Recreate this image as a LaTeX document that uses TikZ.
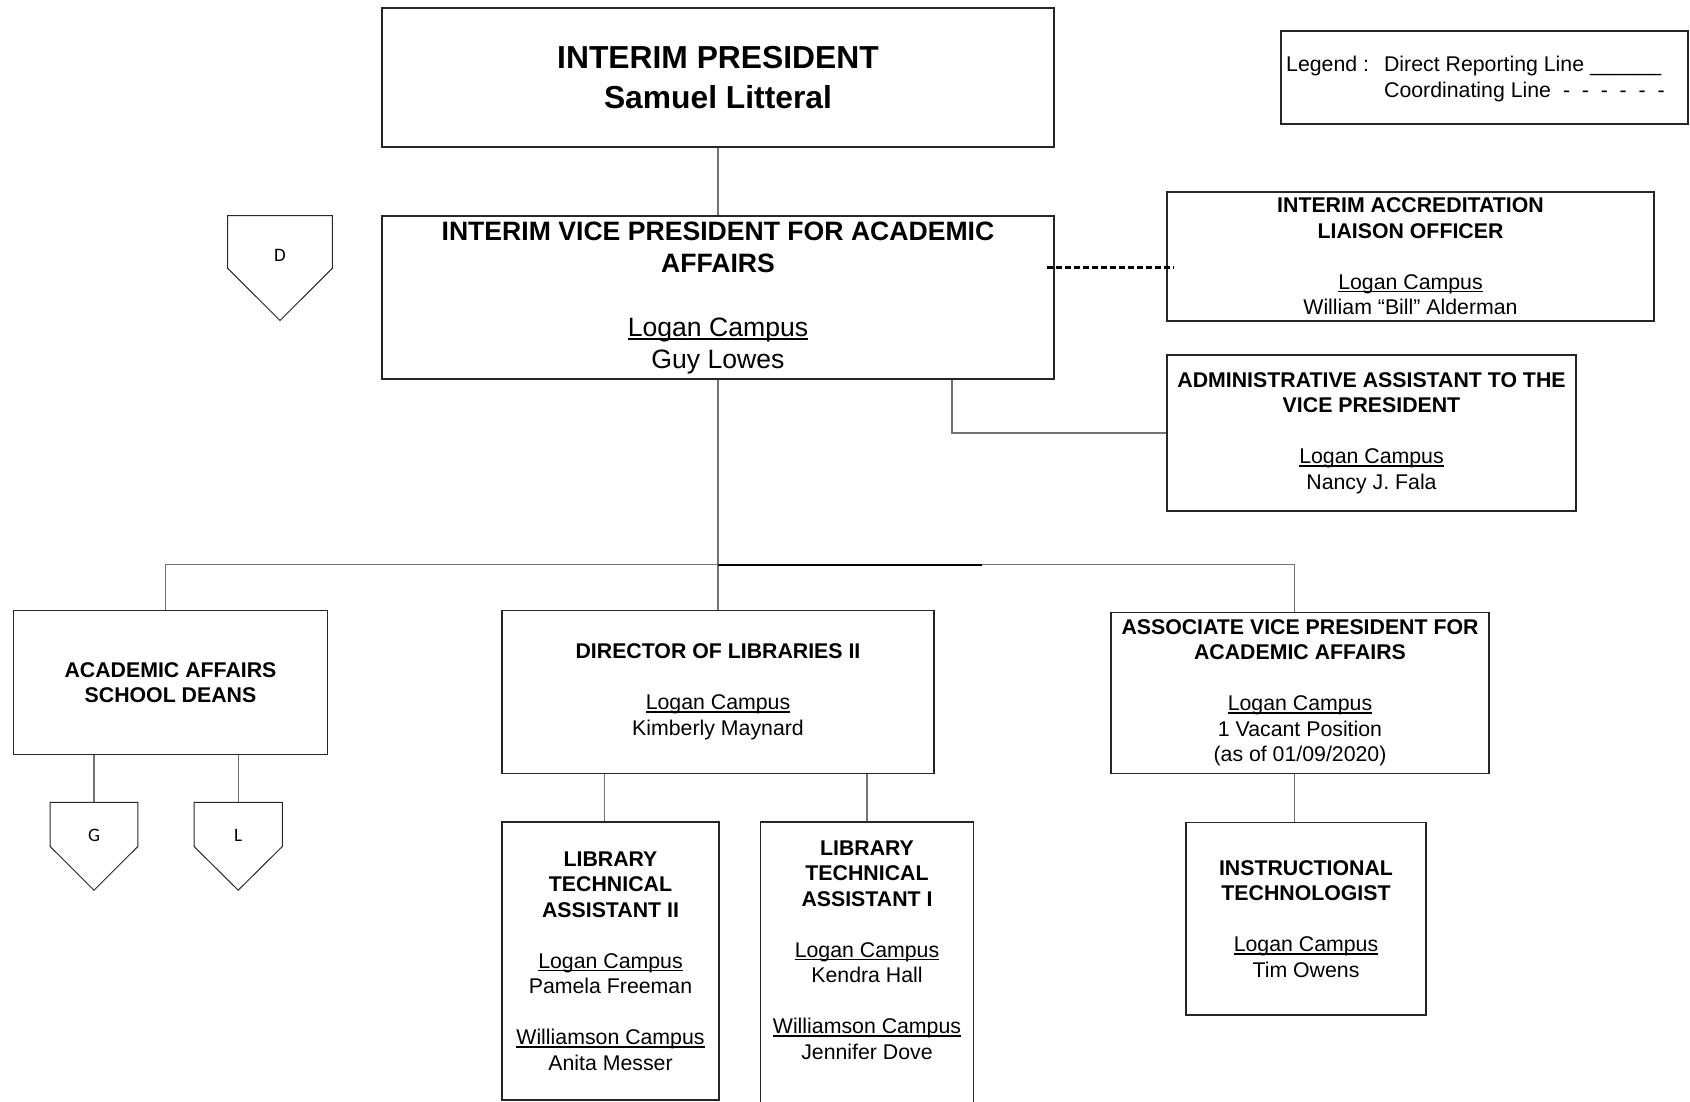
\documentclass[tikz,border=0pt]{standalone}
\usepackage{fontspec}
\setmainfont{Liberation Sans}
\newfontfamily\calibfont{Carlito}
\usetikzlibrary{calc}
\newsavebox{\campusbox}
\newcommand{\campus}[1]{\sbox{\campusbox}{#1}\rlap{\rule[-0.14em]{\wd\campusbox}{0.07em}}\usebox{\campusbox}}
\tikzset{
  box/.style={draw=black!85, line width=1.1pt, inner sep=0pt, align=center,
    font=\fontsize{21.3}{25.5}\selectfont},
  conn/.style={draw=black!55, line width=1.2pt},
  busthick/.style={draw=black, line width=1.7pt},
  coordline/.style={draw=black, line width=2.5pt, dash pattern=on 5.5pt off 3.5pt},
  pent/.style={draw=black!85, line width=1pt},
  letter/.style={font=\calibfont\fontsize{19}{22}\selectfont, inner sep=0pt},
}
\begin{document}
\begin{tikzpicture}[x=1pt,y=-1pt]
\useasboundingbox (0,0) rectangle (1690,1102);
\clip (0,0) rectangle (1690,1102);

% top boxes
\node[box, minimum width=672pt, minimum height=139pt,
      font=\bfseries\fontsize{31.8}{40}\selectfont] (pres) at (718,77.5)
  {INTERIM PRESIDENT\\Samuel Litteral};
\node[box, minimum width=672pt, minimum height=163pt,
      font=\fontsize{26.6}{32}\selectfont] (vp) at (718,297.5)
  {\textbf{INTERIM VICE PRESIDENT FOR ACADEMIC}\\\textbf{AFFAIRS}\\[32pt]\campus{Logan Campus}\\Guy Lowes};

% legend
\node[draw=black!85, line width=1.1pt, minimum width=407pt, minimum height=93pt, inner sep=0pt] (legend) at (1484.5,77.5) {};
\node[anchor=west, inner sep=0pt, font=\fontsize{21.3}{26}\selectfont] (legtext) at (1286,79.7)
  {\begin{tabular}{@{}l@{\hspace{15pt}}l@{}}
   Legend : & Direct Reporting Line \_\_\_\_\_\_\\
            & Coordinating Line\hspace{12pt}-\hspace{11.8pt}-\hspace{11.8pt}-\hspace{11.8pt}-\hspace{11.8pt}-\hspace{11.8pt}-
   \end{tabular}};

% right staff boxes
\node[box, minimum width=487pt, minimum height=129pt] (liaison) at (1410.5,256.5)
  {\textbf{INTERIM ACCREDITATION}\\\textbf{LIAISON OFFICER}\\[25.5pt]\campus{Logan Campus}\\William “Bill” Alderman};
\node[box, minimum width=409pt, minimum height=156pt] (admin) at (1371.5,433)
  {\textbf{ADMINISTRATIVE ASSISTANT TO THE}\\\textbf{VICE PRESIDENT}\\[25.5pt]\campus{Logan Campus}\\Nancy J. Fala};

% second level
\node[box, minimum width=314pt, minimum height=144pt] (deans) at (170.5,682.5)
  {\textbf{ACADEMIC AFFAIRS}\\\textbf{SCHOOL DEANS}};
\node[box, minimum width=432pt, minimum height=163pt] (dir) at (718,692)
  {\textbf{DIRECTOR OF LIBRARIES II}\\[25.5pt]\campus{Logan Campus}\\Kimberly Maynard};
\node[box, minimum width=378pt, minimum height=160.5pt] (avp) at (1300,693)
  {\textbf{ASSOCIATE VICE PRESIDENT FOR}\\\textbf{ACADEMIC AFFAIRS}\\[25.5pt]\campus{Logan Campus}\\1 Vacant Position\\(as of 01/09/2020)};

% third level
\node[box, minimum width=217pt, minimum height=278pt] (lta2) at (610.5,961)
  {\textbf{LIBRARY}\\\textbf{TECHNICAL}\\\textbf{ASSISTANT II}\\[25.5pt]\campus{Logan Campus}\\Pamela Freeman\\[25.5pt]\campus{Williamson Campus}\\Anita Messer};
\node[box, minimum width=212.7pt, minimum height=308pt] (lta1) at (867,976) {};
\node[box, draw=none] (lta1t) at (867,950)
  {\textbf{LIBRARY}\\\textbf{TECHNICAL}\\\textbf{ASSISTANT I}\\[25.5pt]\campus{Logan Campus}\\Kendra Hall\\[25.5pt]\campus{Williamson Campus}\\Jennifer Dove};
\node[box, minimum width=240pt, minimum height=192.6pt] (it) at (1306,918.7)
  {\textbf{INSTRUCTIONAL}\\\textbf{TECHNOLOGIST}\\[25.5pt]\campus{Logan Campus}\\Tim Owens};

% off-page connector pentagons
\draw[pent] (227.7,215.7) -- (332.3,215.7) -- (332.3,268.3) -- (280,320.5) -- (227.7,268.3) -- cycle;
\node[letter] (D) at (280,255.7) {D};
\coordinate (Gtop) at (94,802.4);
\coordinate (Ltop) at (238.2,802.4);
\draw[pent] (50.2,802.4) -- (137.8,802.4) -- (137.8,846.5) -- (94,890.2) -- (50.2,846.5) -- cycle;
\node[letter] (G) at (94,835.7) {G};
\draw[pent] (194.1,802.4) -- (282.3,802.4) -- (282.3,846.5) -- (238.2,890.2) -- (194.1,846.5) -- cycle;
\node[letter] (L) at (238.2,835.7) {L};

% connectors
\draw[conn] (pres.south) -- (vp.north);
\draw[conn] (vp.south) -- (dir.north);
\coordinate (busL) at ([xshift=-5.2pt]deans.north);
\coordinate (busR) at ([xshift=-5.7pt]avp.north);
\draw[conn] (busL) -- ++(0,-45.6) -| (busR);
\coordinate (busM) at (718,565);
\draw[busthick] (busM) -- ++(264,0);
\coordinate (admT) at ([xshift=234pt]vp.south);
\draw[conn] (admT) |- (admin.west);
\draw[coordline] ([xshift=-7.3pt,yshift=29.8pt]vp.east) -- ([xshift=8pt,yshift=-11.2pt]liaison.west);
\draw[conn] (deans.south -| Gtop) -- (Gtop);
\draw[conn] (deans.south -| Ltop) -- (Ltop);
\coordinate (c2) at ([xshift=-6.1pt]lta2.north);
\draw[conn] (c2 |- dir.south) -- (c2);
\draw[conn] (lta1.north |- dir.south) -- (lta1.north);
\coordinate (c3) at ([xshift=-11.7pt]it.north);
\draw[conn] (c3 |- avp.south) -- (c3);
\end{tikzpicture}
\end{document}
